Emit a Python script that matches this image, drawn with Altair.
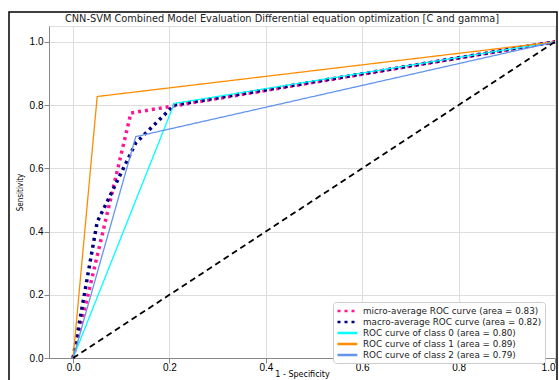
import altair as alt
import pandas as pd

chart_title = "CNN-SVM Combined Model Evaluation Differential equation optimization [C and gamma]"
series_labels = [
    "micro-average ROC curve (area = 0.83)",
    "macro-average ROC curve (area = 0.82)",
    "ROC curve of class 0 (area = 0.80)",
    "ROC curve of class 1 (area = 0.89)",
    "ROC curve of class 2 (area = 0.79)",
]
series_colors = ["deeppink", "navy", "aqua", "darkorange", "cornflowerblue"]
dotted_labels = series_labels[:2]
solid_labels = series_labels[2:]

micro_fpr = [0.0, 0.12, 0.2, 1.0]
micro_tpr = [0.0, 0.775, 0.795, 1.0]
macro_fpr = [0.0, 0.05, 0.13, 0.21, 1.0]
macro_tpr = [0.0, 0.43, 0.68, 0.80, 1.0]
class0_fpr = [0.0, 0.21, 1.0]
class0_tpr = [0.0, 0.805, 1.0]
class1_fpr = [0.0, 0.05, 1.0]
class1_tpr = [0.0, 0.827, 1.0]
class2_fpr = [0.0, 0.13, 1.0]
class2_tpr = [0.0, 0.70, 1.0]
diag_x = [0.0, 1.0]
diag_y = [0.0, 1.0]

tick_vals = [0.0, 0.2, 0.4, 0.6, 0.8, 1.0]

rows = []
for lab, fx, ty in zip(series_labels,
                       [micro_fpr, macro_fpr, class0_fpr, class1_fpr, class2_fpr],
                       [micro_tpr, macro_tpr, class0_tpr, class1_tpr, class2_tpr]):
    for i, (a, b) in enumerate(zip(fx, ty)):
        rows.append({"series": lab, "fpr": a, "tpr": b, "idx": i})
df = pd.DataFrame(rows)
diag_df = pd.DataFrame({"fpr": diag_x, "tpr": diag_y})

FONT = "DejaVu Sans"

xscale = alt.Scale(domain=[-0.05, 1.0], nice=False, zero=False)
yscale = alt.Scale(domain=[0.0, 1.05], nice=False, zero=False)

x_enc = alt.X("fpr:Q", scale=xscale,
              axis=alt.Axis(values=tick_vals, format=".1f", title="1 - Specificity",
                            labelBaseline="middle", labelPadding=4,
                            titleY=16, titleBaseline="middle", titleFontSize=8,
                            titleFontWeight="normal", titleFont=FONT))
y_enc = alt.Y("tpr:Q", scale=yscale,
              axis=alt.Axis(values=tick_vals, format=".1f", title="Sensitivity",
                            labelPadding=1,
                            titleX=-29, titleY=166, titleBaseline="middle",
                            titleFontSize=8, titleFontWeight="normal",
                            titleFont="Liberation Sans Narrow, DejaVu Sans Condensed, sans-serif"))
color_enc = alt.Color("series:N",
                      scale=alt.Scale(domain=series_labels, range=series_colors),
                      title=None,
                      legend=alt.Legend(orient="none", legendX=284, legendY=276,
                                        symbolType="M-1,0H3.4", symbolSize=81,
                                        symbolStrokeWidth=2.5,
                                        labelFontSize=8.8, labelFont=FONT,
                                        labelColor="#222", padding=3,
                                        rowPadding=0, labelOffset=15, labelLimit=300,
                                        fillColor="white", strokeColor="#ccc",
                                        cornerRadius=3))
dash_enc = alt.StrokeDash("series:N",
                          scale=alt.Scale(domain=series_labels,
                                          range=[[3, 4], [3, 4], [1, 0], [1, 0], [1, 0]]),
                          title=None)

dotted = alt.Chart(df).transform_filter(
    alt.FieldOneOfPredicate(field="series", oneOf=dotted_labels)
).mark_line(strokeCap="butt", strokeWidth=3.5).encode(
    x=x_enc, y=y_enc, color=color_enc, strokeDash=dash_enc, order="idx:Q",
)

solid = alt.Chart(df).transform_filter(
    alt.FieldOneOfPredicate(field="series", oneOf=solid_labels)
).mark_line(strokeWidth=1.3).encode(
    x=x_enc, y=y_enc, color=color_enc, strokeDash=dash_enc, order="idx:Q",
)

diag = alt.Chart(diag_df).mark_line(color="black", strokeDash=[6, 4], strokeWidth=1.8).encode(
    x=alt.X("fpr:Q", scale=xscale),
    y=alt.Y("tpr:Q", scale=yscale),
)

frame = alt.Chart(pd.DataFrame({"a": [0]})).mark_rect(
    fill=None, stroke="black", strokeWidth=1.5, clip=False
).encode(
    x=alt.value(-40), x2=alt.value(508), y=alt.value(-14), y2=alt.value(400)
)

title_text = alt.Chart(pd.DataFrame({"t": [chart_title]})).mark_text(
    font=FONT, fontSize=9.8, color="#222", align="center", baseline="middle"
).encode(
    text="t:N", x=alt.value(233), y=alt.value(-7)
)

chart = alt.layer(dotted, solid, diag, frame, title_text).properties(
    width=506, height=332,
    autosize=alt.AutoSizeParams(type="none"),
    padding={"left": 49, "top": 26, "right": 4, "bottom": 22},
).configure_axis(
    grid=False, domainColor="#888", tickColor="#888", tickSize=3.5,
    labelFontSize=8, labelFont=FONT, labelColor="#333",
    titleColor="#222",
).configure_view(
    stroke="#888", strokeWidth=1,
).configure(background="white")

chart.save("out.html", embed_options={"renderer": "svg", "actions": False})
